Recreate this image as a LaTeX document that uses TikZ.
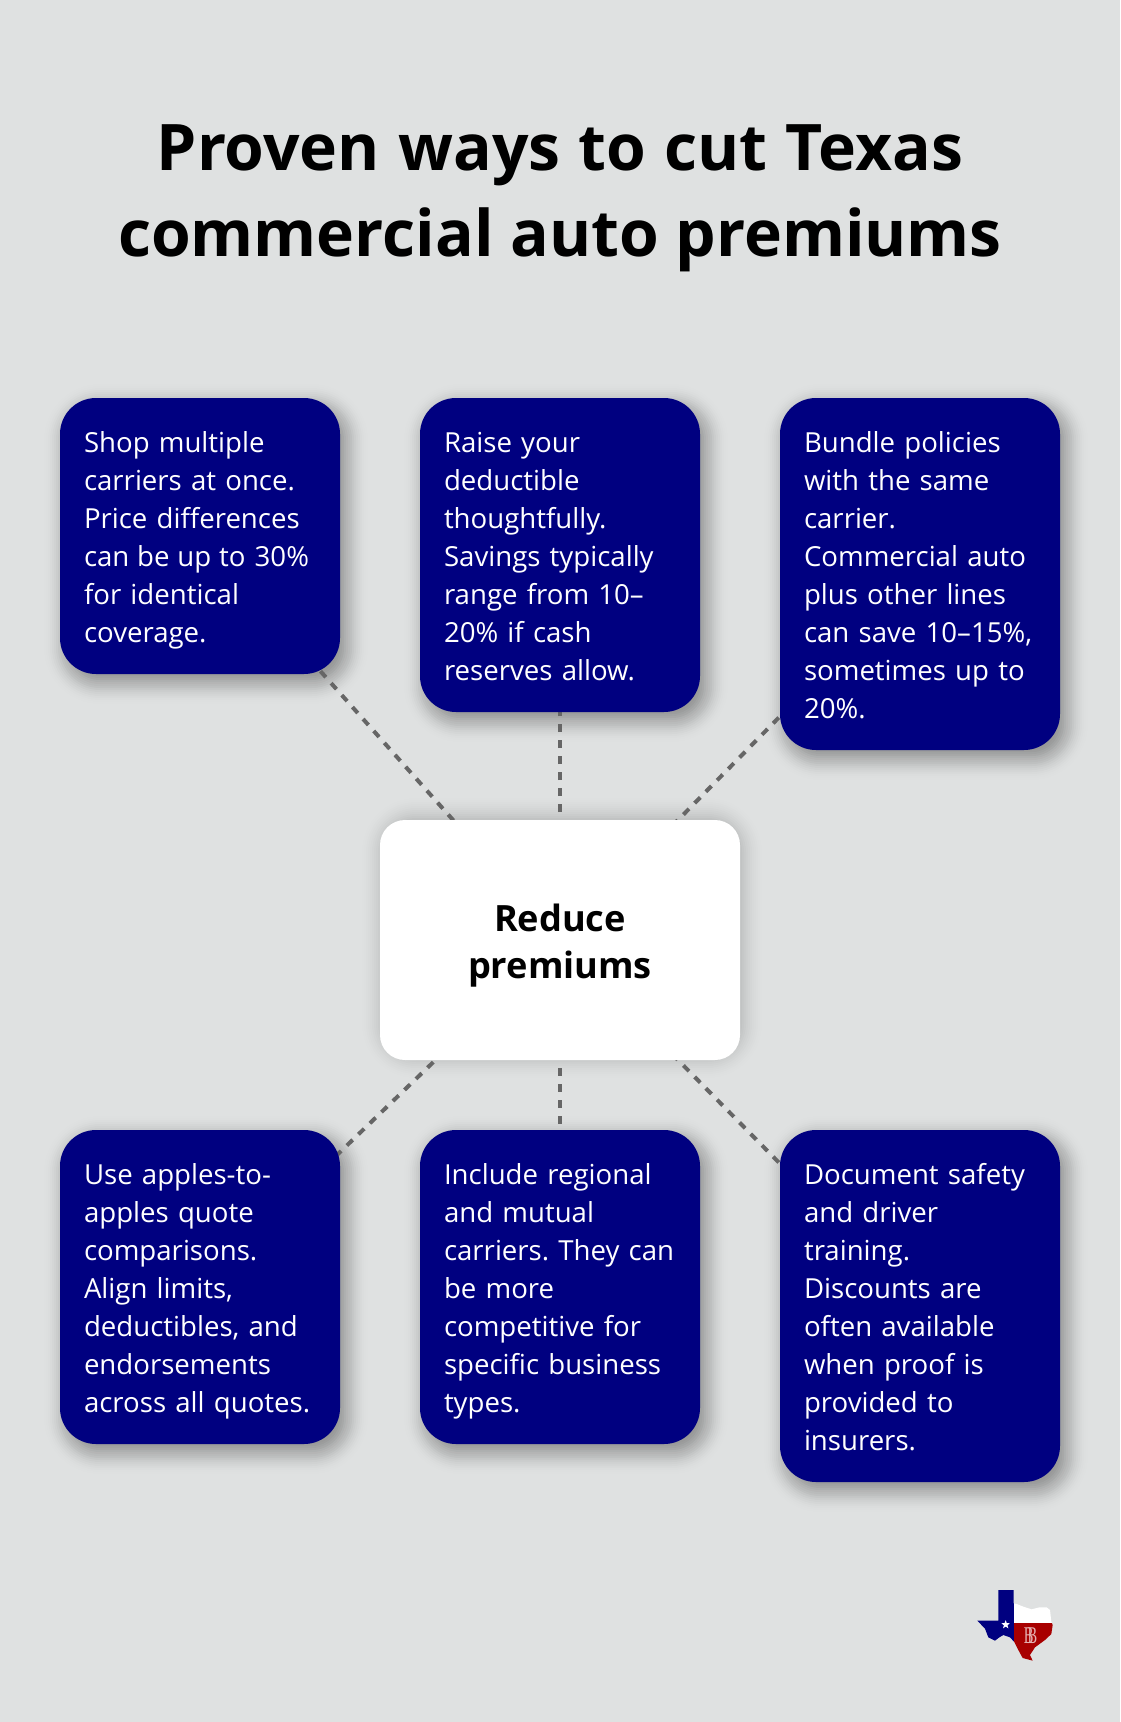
\documentclass[tikz,border=0pt]{standalone}
\usepackage{fontspec}
\setmainfont{Open Sans}
\newfontfamily\logoserif{Liberation Serif}
\usetikzlibrary{shapes.geometric}
\frenchspacing
\definecolor{pagebg}{HTML}{DFE1E1}
\definecolor{boxnavy}{HTML}{000080}
\definecolor{linkgray}{HTML}{666666}
\definecolor{texred}{HTML}{A80000}
\pgfdeclarelayer{shadowlayer}
\pgfdeclarelayer{linklayer}
\pgfsetlayers{shadowlayer,linklayer,main}
% x y w h base-opacity dx dy
\newcommand{\softshadow}[7]{%
  \begin{pgfonlayer}{shadowlayer}
  \foreach \g in {-22,-20,...,22}{
    \pgfmathsetmacro{\op}{#5*(1-abs(\g)/24)}
    \fill[black,fill opacity=\op,rounded corners=34pt+\g pt]
      (#1-\g+#6,#2-\g+#7) rectangle ++(#3+2*\g,#4+2*\g);
  }
  \end{pgfonlayer}}
\tikzset{
  x=1pt,y=-1pt,
  infobox/.style={anchor=north west,fill=boxnavy,text=white,rounded corners=36pt,
    inner xsep=24pt,inner ysep=0pt,outer sep=0pt,text width=232pt,align=left,minimum width=280pt,
    font=\fontsize{27.6}{38}\selectfont},
  hub/.style={anchor=north west,fill=white,text=black,rounded corners=25pt,
    inner sep=0pt,outer sep=0pt,minimum width=360pt,minimum height=240pt,align=center,
    font=\fontsize{36.2}{47.5}\selectfont\bfseries},
  titletext/.style={anchor=center,align=center,inner sep=0pt,text=black,
    font=\fontsize{64.2}{86}\selectfont\bfseries},
  link/.style={draw=linkgray,line width=4pt,dash pattern=on 8pt off 8pt},
}
\newcommand{\fs}{\rule[-8pt]{0pt}{38pt}}
\newcommand{\ts}{\hspace{-1.4pt} }
\newcommand{\ws}{\hspace{1.6pt} }
\begin{document}
\begin{tikzpicture}
\useasboundingbox (0,0) rectangle (1120,1722);
\begin{pgfonlayer}{shadowlayer}
\fill[pagebg] (0,0) rectangle (1120,1722);
\end{pgfonlayer}

\node[titletext] (title) at (560,198.5) {Proven\ws ways\ws to\ws cut\ws Texas\\commercial auto premiums};

\node[hub] (center) at (380,820) {\rule{0pt}{39pt}Reduce\\premiums\rule[-9pt]{0pt}{9pt}};
\softshadow{380}{820}{360}{240}{0.018}{2}{-2}

\node[infobox,minimum height=276pt] (a) at (60,398) {\fs Shop multiple\\carriers at once.\\Price differences\\can\ts be\ts up\ts to 30\%\\for identical\\coverage.\fs};
\softshadow{60}{398}{280}{276}{0.034}{6}{8}
\node[infobox,minimum height=314pt] (b) at (420,398) {\fs Raise your\\deductible\\thoughtfully.\\Savings typically\\range from 10--\\20\% if cash\\reserves allow.\fs};
\softshadow{420}{398}{280}{314}{0.034}{6}{8}
\node[infobox,minimum height=352pt] (c) at (780,398) {\fs Bundle policies\\with the same\\carrier.\\Commercial auto\\plus other lines\\can save 10--15\%,\\sometimes up to\\20\%.\fs};
\softshadow{780}{398}{280}{352}{0.034}{6}{8}
\node[infobox,minimum height=314pt] (d) at (60,1130) {\fs Use apples-to-\\apples quote\\comparisons.\\Align limits,\\deductibles, and\\endorsements\\across all quotes.\fs};
\softshadow{60}{1130}{280}{314}{0.034}{6}{8}
\node[infobox,minimum height=314pt] (e) at (420,1130) {\fs Include regional\\and mutual\\carriers. They can\\be more\\competitive for\\specific business\\types.\fs};
\softshadow{420}{1130}{280}{314}{0.034}{6}{8}
\node[infobox,minimum height=352pt] (f) at (780,1130) {\fs Document safety\\and driver\\training.\\Discounts are\\often available\\when proof is\\provided to\\insurers.\fs};
\softshadow{780}{1130}{280}{352}{0.034}{6}{8}

\begin{pgfonlayer}{linklayer}
\foreach \n in {a,b,c,d,e,f}{
  \draw[link] (center.center) -- (\n.center);
}
\end{pgfonlayer}

% logo
\begin{scope}[shift={(950,1560)},x=0.3333pt,y=-0.3333pt]
  \begin{scope}
  \clip (145,90) -- (191,90) -- (191,130) -- (200,132) -- (220,140) -- (245,148) -- (268,142) -- (290,142) -- (300,150)
     -- (304,185) -- (308,195) -- (304,222) -- (285,240) -- (255,262) -- (240,285) -- (248,302) -- (218,294) -- (205,270)
     -- (193,246) -- (180,232) -- (160,225) -- (148,232) -- (135,242) -- (115,232) -- (105,206) -- (82,182) -- (145,182) -- cycle;
  \fill[boxnavy] (70,80) rectangle (193,310);
  \fill[white] (193,80) rectangle (320,190);
  \fill[texred] (193,190) rectangle (320,310);
  \end{scope}
  \node[star,star points=5,star point ratio=2.4,fill=white,inner sep=0pt,minimum size=9pt] (logostar) at (167,194) {};
  \node[inner sep=0pt,text=white!70!texred,xscale=0.6,font=\logoserif\fontsize{24}{24}\selectfont] (logoa) at (236,228) {B};
  \node[inner sep=0pt,text=white!70!texred,xscale=0.6,font=\logoserif\fontsize{24}{24}\selectfont] (logob) at (247,228) {B};
\end{scope}
\end{tikzpicture}
\end{document}
